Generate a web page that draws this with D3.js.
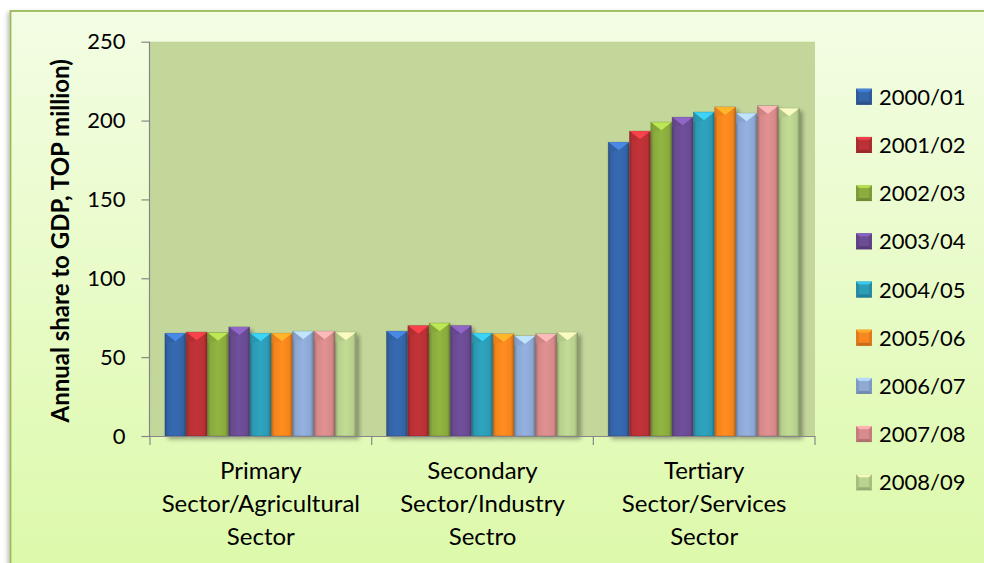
<!DOCTYPE html>
<html>
<head>
<meta charset="utf-8">
<script src="https://cdn.jsdelivr.net/npm/d3@7/dist/d3.min.js"></script>
<style>
  html, body { margin: 0; padding: 0; background: #ffffff; }
  svg { display: block; }
  text { font-family: Lato, "Open Sans", sans-serif; fill: #000; }
</style>
</head>
<body>
<svg id="chart" width="984" height="563"></svg>
<script>
// ---- data ----
const categories = [
  ["Primary", "Sector/Agricultural", "Sector"],
  ["Secondary", "Sector/Industry", "Sectro"],
  ["Tertiary", "Sector/Services", "Sector"]
];
const seriesLabels = ["2000/01","2001/02","2002/03","2003/04","2004/05","2005/06","2006/07","2007/08","2008/09"];
const primaryValues   = [65.1, 65.8, 65.5, 69.1, 65.1, 65.1, 66.4, 66.4, 65.8];
const secondaryValues = [66.4, 69.9, 71.5, 69.9, 65.1, 64.7, 63.4, 64.7, 65.8];
const tertiaryValues  = [186.2, 193.2, 198.9, 202.1, 205.3, 208.6, 204.6, 209.3, 207.8];
const yTicks = [0, 50, 100, 150, 200, 250];
const yTitle = "Annual share to GDP, TOP million)";
const seriesColors = ["#3466aa","#bb3136","#8cad3e","#6b4c95","#2d9db7","#f8871f","#8eaad7","#d98b8b","#bad38f"];

const categoryValues = [primaryValues, secondaryValues, tertiaryValues];

// ---- layout ----
const svg = d3.select("#chart");
const plot = { left: 150, right: 815, top: 41.7, bottom: 436 };

const defs = svg.append("defs");
const bgGrad = defs.append("linearGradient").attr("id","bg").attr("x1",0).attr("y1",0).attr("x2",0).attr("y2",1);
bgGrad.append("stop").attr("offset","0%").attr("stop-color","#f3fde4");
bgGrad.append("stop").attr("offset","100%").attr("stop-color","#dbf9a6");

const shadow = defs.append("filter").attr("id","shadow").attr("x","-20%").attr("y","-5%").attr("width","160%").attr("height","115%");
shadow.append("feDropShadow").attr("dx",3).attr("dy",3).attr("stdDeviation",2.2).attr("flood-color","#000").attr("flood-opacity",0.35);

const frameShadow = defs.append("filter").attr("id","fshadow").attr("x","-5%").attr("y","-5%").attr("width","110%").attr("height","110%");
frameShadow.append("feDropShadow").attr("dx",-2).attr("dy",2).attr("stdDeviation",2).attr("flood-color","#000").attr("flood-opacity",0.25);

seriesColors.forEach((c, i) => {
  const g = defs.append("linearGradient").attr("id","bar"+i).attr("x1",0).attr("y1",0).attr("x2",1).attr("y2",0);
  const base = d3.color(c);
  g.append("stop").attr("offset","0%").attr("stop-color", base.darker(0.7));
  g.append("stop").attr("offset","14%").attr("stop-color", base.darker(0.05));
  g.append("stop").attr("offset","50%").attr("stop-color", base.brighter(0.12));
  g.append("stop").attr("offset","86%").attr("stop-color", base.darker(0.05));
  g.append("stop").attr("offset","100%").attr("stop-color", base.darker(0.8));
});

// outer chart frame
svg.append("rect")
  .attr("x", 10.5).attr("y", 11)
  .attr("width", 1000).attr("height", 600)
  .attr("fill", "url(#bg)")
  .attr("stroke", "#9bbb59").attr("stroke-width", 1.8)
  .attr("filter", "url(#fshadow)");

// plot area
svg.append("rect")
  .attr("x", plot.left).attr("y", plot.top)
  .attr("width", plot.right - plot.left).attr("height", plot.bottom - plot.top)
  .attr("fill", "#c4d79b");

const y = d3.scaleLinear().domain([0, 250]).range([plot.bottom, plot.top]);
const x0 = d3.scaleBand().domain(d3.range(categories.length))
  .range([plot.left, plot.right]).paddingInner(0.135).paddingOuter(0.0675);
const x1 = d3.scaleBand().domain(d3.range(seriesLabels.length))
  .range([0, x0.bandwidth()]).padding(0);

// bars
const groups = svg.append("g").selectAll("g")
  .data(categoryValues).join("g")
  .attr("transform", (d, i) => `translate(${x0(i)},0)`);

groups.each(function(vals) {
  const g = d3.select(this);
  vals.forEach((v, s) => {
    const bx = x1(s), bw = x1.bandwidth() - 0.6;
    const top = y(v), h = y(0) - y(v);
    const base = d3.color(seriesColors[s]);
    const bar = g.append("g").attr("filter", "url(#shadow)");
    bar.append("rect")
      .attr("x", bx).attr("y", top).attr("width", bw).attr("height", h)
      .attr("fill", `url(#bar${s})`)
      .attr("stroke", base.darker(1.2)).attr("stroke-opacity", 0.55).attr("stroke-width", 0.8);
    const bev = Math.min(8, h / 2);
    bar.append("path")
      .attr("d", `M${bx},${top} L${bx + bw},${top} L${bx + bw / 2},${top + bev} Z`)
      .attr("fill", base.brighter(0.9)).attr("opacity", 0.9);
    bar.append("path")
      .attr("d", `M${bx},${top} L${bx + bw / 2},${top + bev} L${bx},${top + bev + 2} Z`)
      .attr("fill", base.darker(0.2)).attr("opacity", 0.6);
  });
});

// axes
const axisColor = "#868686";
const yAxis = svg.append("g").attr("transform", `translate(${plot.left - 0.5},0)`)
  .call(d3.axisLeft(y).tickValues(yTicks).tickSize(8).tickPadding(16).tickFormat(d3.format("d")));
yAxis.select(".domain").attr("stroke", axisColor).attr("stroke-width", 1.2)
  .attr("d", `M0,${plot.top}V${plot.bottom}`);
yAxis.selectAll(".tick line").attr("stroke", axisColor).attr("stroke-width", 1.2);
yAxis.selectAll(".tick text").attr("font-size", 22).attr("fill", "#000")
  .style("font-family", "Lato, 'Open Sans', sans-serif");

const xBoundaries = d3.range(categories.length + 1).map(i =>
  i < categories.length ? x0(i) - x0.step() * x0.paddingOuter() : plot.right);
const xAxis = svg.append("g");
xAxis.append("line").attr("x1", plot.left - 8).attr("x2", plot.right)
  .attr("y1", plot.bottom + 0.5).attr("y2", plot.bottom + 0.5)
  .attr("stroke", axisColor).attr("stroke-width", 1.2);
xAxis.selectAll("line.tk").data(xBoundaries).join("line").attr("class","tk")
  .attr("x1", d => d).attr("x2", d => d)
  .attr("y1", plot.bottom).attr("y2", plot.bottom + 9)
  .attr("stroke", axisColor).attr("stroke-width", 1.2);

// category labels
const catLabels = svg.append("g").selectAll("text")
  .data(categories).join("text")
  .attr("x", (d, i) => x0(i) + x0.bandwidth() / 2)
  .attr("text-anchor", "middle")
  .attr("font-size", 24);
catLabels.each(function(lines) {
  const t = d3.select(this);
  lines.forEach((ln, k) => {
    t.append("tspan").attr("x", t.attr("x")).attr("y", 479 + k * 33).text(ln);
  });
});

// y title
svg.append("text")
  .attr("transform", `translate(69,${(plot.top + plot.bottom) / 2 + 2}) rotate(-90)`)
  .attr("text-anchor", "middle")
  .attr("font-size", 24).attr("font-weight", "bold")
  .text(yTitle);

// legend
const legend = svg.append("g").selectAll("g")
  .data(seriesLabels).join("g")
  .attr("transform", (d, i) => `translate(856,${96.7 + i * 48.2})`);
legend.each(function(lbl, i) {
  const g = d3.select(this);
  const base = d3.color(seriesColors[i]);
  const s = 16;
  g.append("rect").attr("x", 0).attr("y", -s / 2).attr("width", s).attr("height", s)
    .attr("fill", base.darker(0.3));
  g.append("path").attr("d", `M0,${-s/2} L${s},${-s/2} L${s/2},0 Z`).attr("fill", base.brighter(0.7));
  g.append("path").attr("d", `M0,${s/2} L${s},${s/2} L${s/2},0 Z`).attr("fill", base.darker(0.6));
  g.append("rect").attr("x", 3).attr("y", -s / 2 + 3).attr("width", s - 6).attr("height", s - 6)
    .attr("fill", base);
  g.append("text").attr("x", 23).attr("y", 8).attr("font-size", 22).text(lbl);
});
</script>
</body>
</html>
